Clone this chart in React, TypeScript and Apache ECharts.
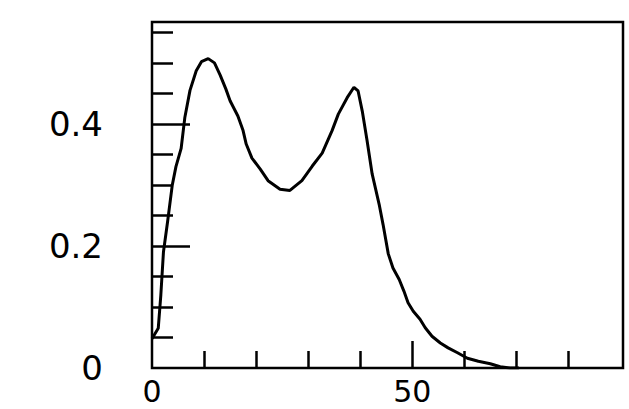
import React, { useEffect, useRef } from 'react';
import * as echarts from 'echarts';

const xValues = [
  0, 1.2, 1.7, 2.2, 3.0, 3.9, 4.6, 5.6, 6.3, 7.3, 8.5, 9.5, 10.8, 12.0, 13.1, 14.2, 15.0, 16.5, 17.5,
  18.1, 19.2, 20.8, 22.3, 24.6, 26.5, 28.8, 30.8, 32.7, 34.6, 35.8, 37.5, 38.8, 39.6, 40.4, 41.3, 42.3,
  43.7, 44.4, 45.4, 46.3, 47.5, 48.4, 49.2, 50.2, 51.5, 52.5, 53.8, 55.4, 56.9, 58.7, 60.6, 62.7, 65.0,
  66.9, 68.8, 70.5,
];
const yValues = [
  0.048, 0.065, 0.12, 0.19, 0.24, 0.3, 0.33, 0.36, 0.41, 0.455, 0.487, 0.502, 0.507, 0.5, 0.48, 0.457,
  0.438, 0.413, 0.389, 0.367, 0.344, 0.326, 0.307, 0.293, 0.291, 0.307, 0.331, 0.352, 0.389, 0.416,
  0.443, 0.46, 0.454, 0.421, 0.374, 0.318, 0.266, 0.235, 0.187, 0.164, 0.145, 0.126, 0.107, 0.093,
  0.08, 0.066, 0.052, 0.041, 0.033, 0.025, 0.016, 0.011, 0.007, 0.002, 0, 0,
];
const xMinorTicks = [10, 20, 30, 40, 60, 70, 80];
const xMajorTicks = [50];
const xTickLabels = [0, 50];
const yMinorTicks = [0.05, 0.1, 0.15, 0.25, 0.3, 0.35, 0.45, 0.5, 0.55];
const yMajorTicks = [0.2, 0.4];
const yTickLabels = [0, 0.2, 0.4];

export default function App() {
  const ref = useRef<HTMLDivElement>(null);
  useEffect(() => {
    const chart = echarts.init(ref.current!, null, { renderer: 'svg' });
    const tickStyle = { color: '#000', width: 2.5 };
    chart.setOption({
      animation: false,
      backgroundColor: '#fff',
      grid: {
        left: 152,
        right: 6,
        top: 22,
        bottom: 41,
        show: true,
        borderColor: '#000',
        borderWidth: 2.5,
      },
      xAxis: [
        {
          type: 'value',
          position: 'bottom',
          min: 0,
          max: 90.5,
          axisLine: { show: false },
          splitLine: { show: false },
          axisTick: {
            show: true,
            inside: true,
            length: 17,
            lineStyle: tickStyle,
            customValues: xMinorTicks,
          },
          axisLabel: {
            fontFamily: 'DejaVu Sans',
            fontSize: 30,
            lineHeight: 30,
            color: '#000',
            margin: 8,
            hideOverlap: false,
            customValues: xTickLabels,
            formatter: (v: number) => String(v),
          },
        },
        {
          type: 'value',
          position: 'bottom',
          min: 0,
          max: 90.5,
          axisLine: { show: false },
          splitLine: { show: false },
          axisTick: {
            show: true,
            inside: true,
            length: 27,
            lineStyle: tickStyle,
            customValues: xMajorTicks,
          },
          axisLabel: { show: false },
        },
      ],
      yAxis: [
        {
          type: 'value',
          position: 'left',
          min: 0,
          max: 0.567,
          axisLine: { show: false },
          splitLine: { show: false },
          axisTick: {
            show: true,
            inside: true,
            length: 21,
            lineStyle: tickStyle,
            customValues: yMinorTicks,
          },
          axisLabel: { show: false },
        },
        {
          type: 'value',
          position: 'left',
          min: 0,
          max: 0.567,
          axisLine: { show: false },
          splitLine: { show: false },
          axisTick: {
            show: true,
            inside: true,
            length: 38,
            lineStyle: tickStyle,
            customValues: yMajorTicks,
          },
          axisLabel: {
            fontFamily: 'DejaVu Sans',
            fontSize: 34,
            color: '#000',
            margin: 49,
            hideOverlap: false,
            customValues: yTickLabels,
            formatter: (v: number) => String(v),
          },
        },
      ],
      series: [
        {
          type: 'line',
          xAxisIndex: 0,
          yAxisIndex: 0,
          data: xValues.map((x, i) => [x, yValues[i]]),
          showSymbol: false,
          symbol: 'none',
          lineStyle: { color: '#000', width: 3 },
          clip: true,
        },
      ],
    });
    return () => chart.dispose();
  }, []);
  return (
    <div
      ref={ref}
      style={{ position: 'fixed', left: 0, top: 0, width: 629, height: 409, background: '#fff' }}
    />
  );
}
